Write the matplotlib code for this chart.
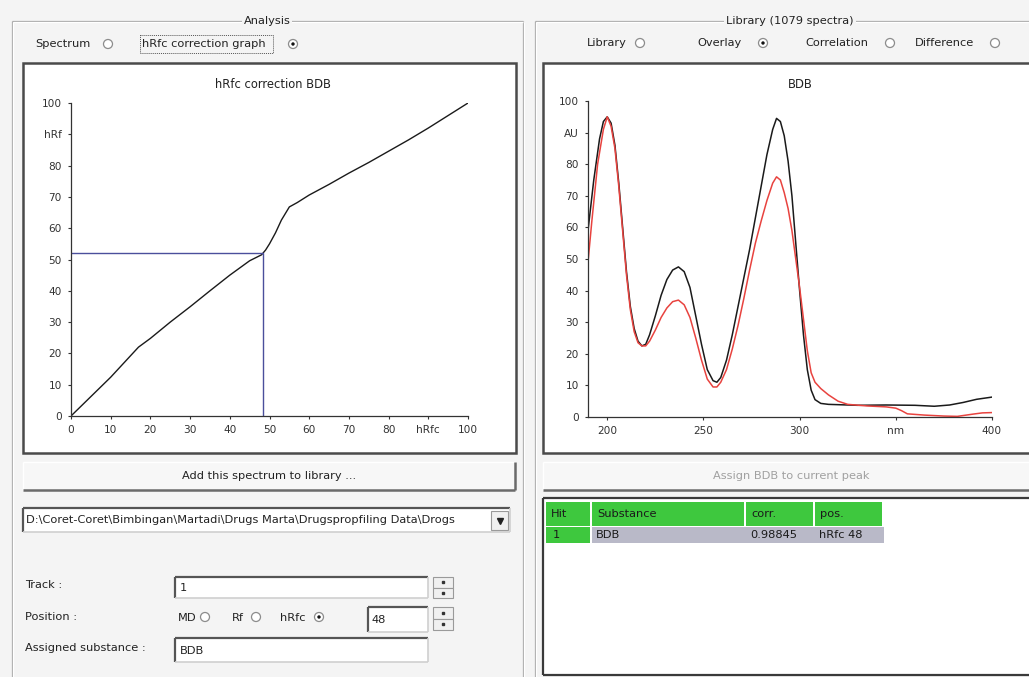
"""Screenshot recreation: hRfc correction graph + library overlay spectra."""
import matplotlib
matplotlib.use("Agg")
import matplotlib.pyplot as plt
from matplotlib.patches import Rectangle, Circle

plt.rcParams['font.family'] = ['DejaVu Sans']

# --- data ---
hrfc = [0, 5, 10, 17, 20, 25, 30, 35, 40, 45, 48, 49, 50, 51.5, 53, 55, 57, 60,
        65, 70, 75, 80, 85, 90, 95, 100]
hrf = [0, 6.2, 12.4, 22, 24.8, 30, 34.9, 40, 45, 49.6, 51.5, 53, 55, 58.5, 62.6,
       66.8, 68.2, 70.6, 74, 77.6, 81, 84.6, 88.2, 92, 96, 100]
marker_hrfc = 48.3
marker_hrf = 52.2

nm_sample = [190, 193, 196, 198, 200, 202, 204, 206, 208, 210, 212, 214, 216, 218,
             220, 222, 225, 228, 231, 234, 237, 240, 243, 246, 249, 252, 255, 257,
             259, 262, 265, 268, 271, 274, 277, 280, 283, 286, 288, 290, 292, 294,
             296, 298, 300, 302, 304, 306, 308, 311, 315, 330, 345, 360, 370, 378,
             385, 392, 400]
au_sample = [59, 75, 88, 93.5, 95, 93, 86, 74, 60, 46, 35, 28, 24, 22.5,
             23, 26, 32, 38.5, 43.5, 46.5, 47.5, 46, 41, 32, 23, 15, 11.5, 11,
             12.5, 18, 26, 35, 44, 53, 63, 73, 83, 91, 94.5, 93.5, 89, 81,
             70, 55, 40, 26, 15, 8.5, 5.5, 4.3, 4, 3.7, 3.8, 3.7, 3.4, 3.8,
             4.6, 5.6, 6.3]
nm_library = [190, 192, 195, 198, 200, 202, 204, 206, 208, 210, 212, 214, 216, 218,
              220, 222, 225, 228, 231, 234, 237, 240, 243, 246, 249, 252, 255, 257,
              259, 262, 265, 268, 271, 274, 277, 280, 283, 286, 288, 290, 292, 294,
              296, 298, 300, 302, 304, 306, 308, 311, 315, 320, 325, 335, 345, 350,
              353, 356, 365, 375, 382, 390, 395, 400]
au_library = [49, 62, 80, 91, 95, 92, 85, 73, 59, 45, 34, 27, 23.5, 22.5,
              22.5, 24, 27.5, 31.5, 34.5, 36.5, 37, 35.5, 31.5, 25, 18, 12, 9.5, 9.5,
              11, 15, 21.5, 29, 37.5, 46.5, 55, 62, 68.5, 74, 76, 75, 71, 66,
              59, 50, 41, 31, 21, 14, 11, 9, 7, 5, 4, 3.5, 3.2, 2.8,
              2, 1, 0.6, 0.3, 0.2, 0.9, 1.3, 1.4]

hit_headers = ["Hit", "Substance", "corr.", "pos."]
hit_row = ["1", "BDB", "0.98845", "hRfc 48"]
file_path = r"D:\Coret-Coret\Bimbingan\Martadi\Drugs Marta\Drugspropfiling Data\Drogs"

W, H = 1029, 677
BG = '#f4f4f4'
UI_SIZE = 8.2
fig = plt.figure(figsize=(W / 100, H / 100), dpi=100)
fig.patch.set_facecolor(BG)
ui = fig.add_axes([0, 0, 1, 1])
ui.set_xlim(0, W)
ui.set_ylim(H, 0)
ui.axis('off')


def rect(x0, y0, x1, y1, fc, ec='none', lw=1.0, z=1):
    ui.add_patch(Rectangle((x0, y0), x1 - x0, y1 - y0, facecolor=fc,
                           edgecolor=ec, lw=lw, zorder=z))


def line(xs, ys, c, lw=1.0, z=2, ls='-'):
    ui.plot(xs, ys, color=c, lw=lw, zorder=z, ls=ls, solid_capstyle='butt')


def label(x, y, s, size=UI_SIZE, color='#222222', ha='left', **kw):
    ui.text(x, y, s, fontsize=size, color=color, ha=ha, va='center', zorder=5, **kw)


def group_box(x0, y0, x1, y1, title, tx):
    for off, c in ((0, '#a9a9a9'), (1, 'white')):
        line([x0 + off, x1], [y0 + off, y0 + off], c, 0.9)
        line([x0 + off, x0 + off], [y0 + off, y1], c, 0.9)
        line([x1 + off, x1 + off], [y0 + off, y1], c, 0.9)
    ui.text(tx, y0, title, fontsize=UI_SIZE, color='#222222', ha='center', va='center',
            zorder=5, bbox=dict(facecolor=BG, edgecolor='none', pad=1.5))


def sunken(x0, y0, x1, y1, fc='white', dark='#555555'):
    rect(x0, y0, x1, y1, fc, z=1)
    line([x0, x1], [y0, y0], dark, 1.6, z=3)
    line([x0, x0], [y0, y1], dark, 1.6, z=3)
    line([x0, x1], [y1, y1], '#cfcfcf', 1.2, z=3)
    line([x1, x1], [y0, y1], '#cfcfcf', 1.2, z=3)


def framed(x0, y0, x1, y1):
    rect(x0, y0, x1, y1, 'white', ec='#4a4a4a', lw=1.8, z=1)


def button(x0, y0, x1, y1, text, color='#222222'):
    rect(x0, y0, x1, y1, '#f7f7f7', z=1)
    line([x0, x1], [y0, y0], 'white', 1.0, z=3)
    line([x0, x0], [y0, y1], 'white', 1.0, z=3)
    line([x0, x1], [y1, y1], '#6a6a6a', 1.8, z=3)
    line([x1, x1], [y0, y1], '#6a6a6a', 1.8, z=3)
    label((x0 + x1) / 2, (y0 + y1) / 2, text, ha='center', color=color)


def radio(cx, cy, checked=False):
    ui.add_patch(Circle((cx, cy), 4.5, facecolor='white', edgecolor='#8c8c8c',
                        lw=0.9, zorder=4))
    if checked:
        ui.add_patch(Circle((cx, cy), 1.7, facecolor='#111111', edgecolor='none', zorder=5))


def spinner(x0, y0, x1, y1):
    ym = (y0 + y1) / 2
    for a, b in ((y0, ym), (ym, y1)):
        rect(x0, a, x1, b, '#f0f0f0', ec='#9a9a9a', lw=0.8, z=3)
        ui.plot([(x0 + x1) / 2], [(a + b) / 2], marker='s', ms=1.5, color='#333333', zorder=4)


# --- group boxes ---
group_box(12, 21, 523, H + 5, "Analysis", 267)
group_box(535, 21, W + 20, H + 5, "Library (1079 spectra)", 790)

# top radio rows
label(35, 44, "Spectrum")
radio(108, 44)
rect(140, 35, 273, 53, 'none', ec='#555555', lw=0.7, z=4)
ui.patches[-1].set_linestyle((0, (1, 1)))
label(142, 44, "hRfc correction graph")
radio(293, 44, True)

label(587, 43, "Library")
radio(640, 43)
label(697, 43, "Overlay")
radio(763, 43, True)
label(805, 43, "Correlation")
radio(890, 43)
label(915, 43, "Difference")
radio(995, 43)

# plot frames
framed(23, 63, 516, 453)
framed(543, 63, W + 10, 453)

ui.text(273, 84, "hRfc correction BDB", fontsize=8.3, color='#222222', ha='center',
        va='center', zorder=5)
ui.text(800, 84, "BDB", fontsize=8.3, color='#222222', ha='center', va='center', zorder=5)


def ax_rect(l, t, r, b):
    return [l / W, 1 - b / H, (r - l) / W, (b - t) / H]


def style_axes(ax):
    for s in ('top', 'right'):
        ax.spines[s].set_visible(False)
    for s in ('left', 'bottom'):
        ax.spines[s].set_color('#333333')
        ax.spines[s].set_linewidth(0.9)
    ax.tick_params(direction='out', length=2.5, width=0.8, color='#333333',
                   labelsize=7.6, labelcolor='#333333', pad=4)
    ax.patch.set_alpha(0)


# --- left chart: hRfc correction ---
ax1 = fig.add_axes(ax_rect(71, 103, 468, 416))
ax1.plot(hrfc, hrf, color='#1a1a1a', lw=1.0)
ax1.plot([0, marker_hrfc, marker_hrfc], [marker_hrf, marker_hrf, 0],
         color='#4b4f9c', lw=1.0)
ax1.set_xlim(0, 100)
ax1.set_ylim(0, 100)
ticks = list(range(0, 101, 10))
ax1.set_xticks(ticks)
ax1.set_xticklabels([("hRfc" if t == 90 else str(t)) for t in ticks])
ax1.set_yticks(ticks)
ax1.set_yticklabels([("hRf" if t == 90 else str(t)) for t in ticks])
style_axes(ax1)

# --- right chart: spectra overlay ---
ax2 = fig.add_axes(ax_rect(588, 101, 992, 417))
ax2.plot(nm_sample, au_sample, color='#1a1a1a', lw=1.1)
ax2.plot(nm_library, au_library, color='#e8433f', lw=1.1)
ax2.set_xlim(190, 400)
ax2.set_ylim(0, 100)
xt = [200, 250, 300, 350, 400]
ax2.set_xticks(xt)
ax2.set_xticklabels([("nm" if t == 350 else str(t)) for t in xt])
ax2.set_yticks(ticks)
ax2.set_yticklabels([("AU" if t == 90 else str(t)) for t in ticks])
style_axes(ax2)

# --- lower left controls ---
button(23, 462, 515, 490, "Add this spectrum to library ...")
sunken(23, 508, 510, 532)
label(26, 520, file_path)
rect(491, 511, 508, 530, '#f0f0f0', ec='#9a9a9a', lw=0.8, z=4)
ui.plot([499.5], [521], marker='v', ms=4, color='#222222', zorder=5)

label(25, 585, "Track :")
sunken(175, 577, 428, 598)
label(180, 588, "1")
spinner(433, 577, 453, 598)

label(25, 617, "Position :")
label(178, 618, "MD")
radio(205, 617)
label(232, 618, "Rf")
radio(256, 617)
label(280, 618, "hRfc")
radio(319, 617, True)
sunken(368, 607, 428, 632)
label(372, 620, "48")
spinner(433, 607, 453, 630)

label(25, 648, "Assigned substance :")
sunken(175, 638, 428, 662)
label(180, 651, "BDB")

# --- lower right: assign button and hit list ---
button(543, 462, W + 10, 490, "Assign BDB to current peak", color='#a0a0a0')
sunken(543, 498, W + 10, 675, dark='#3a3a3a')
line([543, W], [675, 675], '#3a3a3a', 1.6, z=3)

col_x = [546, 592, 746, 815, 884]
for i, text in enumerate(hit_headers):
    rect(col_x[i], 502, col_x[i + 1] - 2, 526, '#3ec83e', z=2)
    label(col_x[i] + 5, 514, text, color='#1a1a1a')
for i, text in enumerate(hit_row):
    fc = '#3ec83e' if i == 0 else '#b9b9c8'
    rect(col_x[i], 527, col_x[i + 1] - (2 if i == 0 else 0), 543, fc, z=2)
    label(col_x[i] + (7 if i == 0 else 4), 535, text, color='#1a1a1a')

fig.savefig("out.png", dpi=100, facecolor=BG)
